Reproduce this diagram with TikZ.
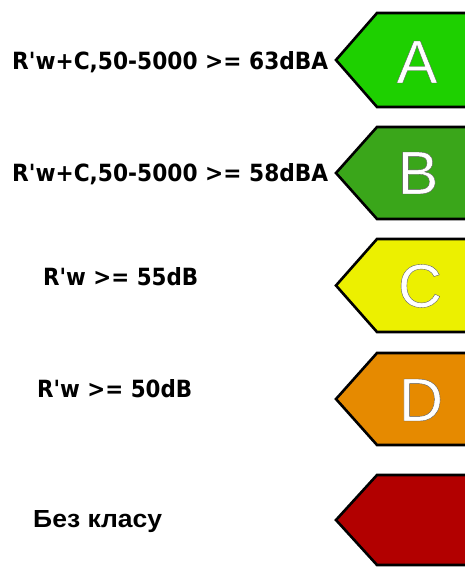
\documentclass[tikz,border=0pt]{standalone}
\usepackage{fontspec}
\setmainfont{Liberation Sans}
\newfontfamily\labfont{DejaVu Sans}
\newfontfamily\outlinefont[FakeBold=0.6]{Liberation Sans}
\usepackage{graphicx}
\definecolor{clsA}{RGB}{30,208,0}
\definecolor{clsB}{RGB}{58,166,26}
\definecolor{clsC}{RGB}{236,240,0}
\definecolor{clsD}{RGB}{230,138,0}
\definecolor{clsE}{RGB}{178,0,0}
\newcommand{\shadedletter}[1]{{\color{white}\special{pdf:literal 0.35 G}#1}}
\begin{document}
\begin{tikzpicture}[x=1bp,y=-1bp,
  arrowbox/.style={draw=black,line width=2.6bp,line join=miter},
  bigletter/.style={font=\outlinefont\fontsize{61bp}{61bp}\selectfont,inner sep=0},
  crit/.style={anchor=base west,inner sep=0,font=\labfont\bfseries}]
\useasboundingbox (0,0) rectangle (465,567);
\fill[white] (0,0) rectangle (465,567);
\begin{scope}
\clip (0,0) rectangle (465,567);
\foreach \t/\b/\c in {13/107/clsA,127/219/clsB,239/332/clsC,353/445/clsD,475/565/clsE}{
  \pgfmathsetmacro\m{(\t+\b)/2}
  \draw[arrowbox,fill=\c] (480,\t) -- (377,\t) -- (336,\m) -- (377,\b) -- (480,\b);
}
\end{scope}
% letters
\foreach \n/\x/\y/\l in {la/417/62/A,lb/418/173/B,lc/420/286/C,ld/421/400/D}{
  \node[bigletter] (\n) at (\x,\y) {\shadedletter{\l}};
}
% criteria texts
\node[crit] (t1) at (12,70) {\resizebox{316bp}{18bp}{R'w+C,50-5000 >= 63dBA}};
\node[crit] (t2) at (12,182) {\resizebox{316bp}{18bp}{R'w+C,50-5000 >= 58dBA}};
\node[crit] (t3) at (43,285) {\resizebox{155bp}{18bp}{R'w >= 55dB}};
\node[crit] (t4) at (37,397) {\resizebox{155bp}{18bp}{R'w >= 50dB}};
\node[anchor=base west,inner sep=0] (t5) at (33,527) {\resizebox{129bp}{17bp}{\bfseries Без класу}};
\end{tikzpicture}
\end{document}
